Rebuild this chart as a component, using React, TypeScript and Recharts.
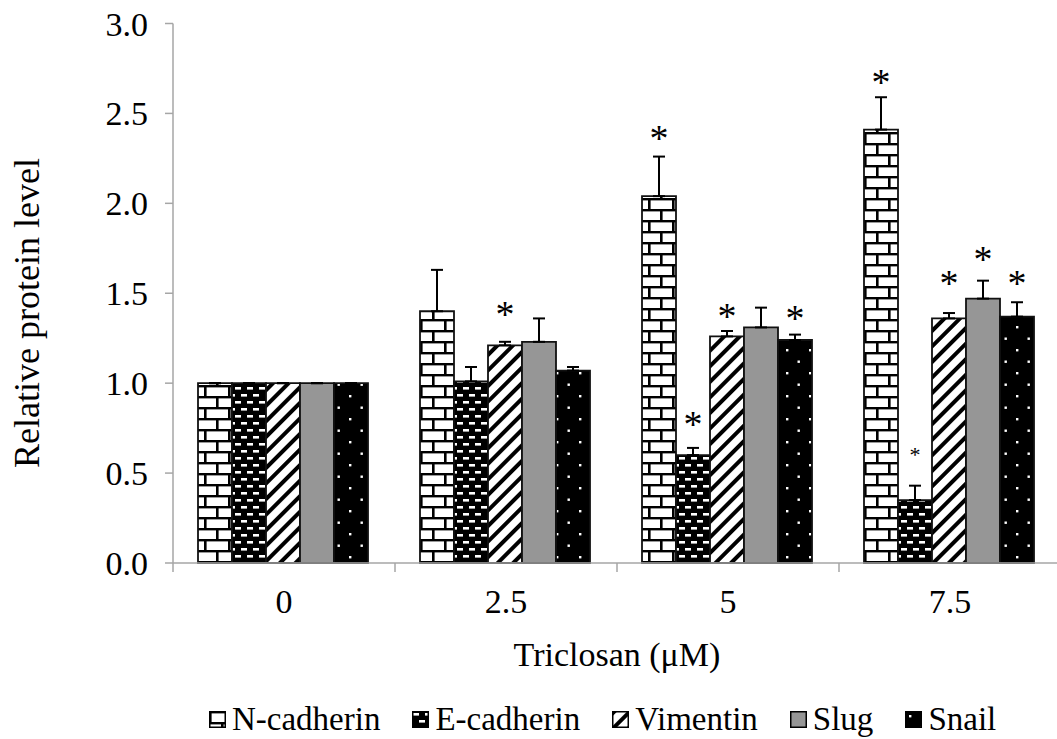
import React from 'react';
import { Bar, BarChart, ErrorBar, LabelList, XAxis, YAxis } from 'recharts';

const doses = ['0', '2.5', '5', '7.5'];

const nCadherin = [1.0, 1.4, 2.04, 2.41];
const nCadherinErr = [0, 0.23, 0.22, 0.18];
const eCadherin = [1.0, 1.01, 0.6, 0.35];
const eCadherinErr = [0, 0.08, 0.04, 0.08];
const vimentin = [1.0, 1.21, 1.26, 1.36];
const vimentinErr = [0, 0.02, 0.03, 0.03];
const slug = [1.0, 1.23, 1.31, 1.47];
const slugErr = [0, 0.13, 0.11, 0.1];
const snail = [1.0, 1.07, 1.24, 1.37];
const snailErr = [0, 0.02, 0.03, 0.08];

// height (in protein-level units) where each significance asterisk sits
const nCadherinStar = [null, null, 2.39, 2.7];
const eCadherinStar = [null, null, 0.8, 0.62];
const vimentinStar = [null, 1.41, 1.4, 1.585];
const slugStar = [null, null, null, 1.72];
const snailStar = [null, null, 1.39, 1.585];

const yTicks = [0, 0.5, 1, 1.5, 2, 2.5, 3];

const FONT = '"Liberation Serif", "Times New Roman", serif';
const AXIS_GRAY = '#a6a6a6';

const series = [
    { key: 'nCad', name: 'N-cadherin', fill: 'url(#brick)', values: nCadherin, err: nCadherinErr, star: nCadherinStar },
    { key: 'eCad', name: 'E-cadherin', fill: 'url(#dash)', values: eCadherin, err: eCadherinErr, star: eCadherinStar },
    { key: 'vim', name: 'Vimentin', fill: 'url(#stripe)', values: vimentin, err: vimentinErr, star: vimentinStar },
    { key: 'slug', name: 'Slug', fill: '#969696', values: slug, err: slugErr, star: slugStar },
    { key: 'snail', name: 'Snail', fill: 'url(#dots)', values: snail, err: snailErr, star: snailStar },
];

const rows = doses.map((dose, i) => {
    const row: Record<string, any> = { dose };
    series.forEach((s) => {
        row[s.key] = s.values[i];
        row[s.key + 'Err'] = [0, s.err[i]];
        row[s.key + 'Star'] = s.star[i];
    });
    return row;
});

function PatternDefs({ prefix = '' }: { prefix?: string }) {
    return (
        <defs>
            <pattern id={prefix + 'brick'} width={24} height={22} patternUnits="userSpaceOnUse">
                <rect width={24} height={22} fill="#fff" />
                <rect x={0} y={0} width={24} height={2.4} fill="#000" />
                <rect x={0} y={11} width={24} height={2.4} fill="#000" />
                <rect x={0} y={0} width={2.6} height={11} fill="#000" />
                <rect x={12} y={11} width={2.6} height={11} fill="#000" />
            </pattern>
            <pattern id={prefix + 'dash'} width={12} height={14} patternUnits="userSpaceOnUse">
                <rect width={12} height={14} fill="#000" />
                <rect x={1} y={2} width={6} height={2.6} fill="#fff" />
                <rect x={7} y={9} width={6} height={2.6} fill="#fff" />
                <rect x={-5} y={9} width={6} height={2.6} fill="#fff" />
            </pattern>
            <pattern id={prefix + 'stripe'} width={11} height={11} patternUnits="userSpaceOnUse" patternTransform="rotate(45)">
                <rect width={11} height={11} fill="#fff" />
                <rect x={0} y={0} width={4} height={11} fill="#000" />
            </pattern>
            <pattern id={prefix + 'dots'} width={23} height={23} patternUnits="userSpaceOnUse">
                <rect width={23} height={23} fill="#000" />
                <rect x={4} y={4} width={2.4} height={2.4} fill="#fff" />
                <rect x={15.5} y={15.5} width={2.4} height={2.4} fill="#fff" />
            </pattern>
        </defs>
    );
}

function DoseTick(props: any) {
    const { x, y, payload } = props;
    const half = payload && payload.offset ? payload.offset : 111;
    return (
        <g>
            <line x1={x - half} x2={x - half} y1={y} y2={y + 9} stroke={AXIS_GRAY} strokeWidth={1.5} />
            <text x={x} y={y + 50} textAnchor="middle" fontFamily={FONT} fontSize={34} fill="#000">
                {payload.value}
            </text>
        </g>
    );
}

function starRenderer(values: number[], small: number[]) {
    return (props: any) => {
        const vb = props.viewBox || props;
        const { index, value } = props;
        if (value === null || value === undefined) return null;
        const h = Number(vb.height);
        const perUnit = h / values[index];
        const cy = Number(vb.y) + h - Number(value) * perUnit;
        const size = small.includes(index) ? 22 : 38;
        return (
            <text x={Number(vb.x) + Number(vb.width) / 2} y={cy + size * 0.47} textAnchor="middle" fontFamily={FONT} fontSize={size} fill="#000">
                *
            </text>
        );
    };
}

function ChartLegend() {
    return (
        <div
            style={{
                position: 'absolute',
                left: 0,
                top: 697,
                width: 1057,
                height: 44,
                display: 'flex',
                alignItems: 'center',
                paddingLeft: 209,
                boxSizing: 'border-box',
                fontFamily: FONT,
                fontSize: 33,
                color: '#000',
                whiteSpace: 'nowrap',
            }}
        >
            {series.map((s) => (
                <div key={s.key} style={{ display: 'flex', alignItems: 'center', marginRight: 32 }}>
                    <svg width={17} height={17} style={{ marginRight: 6 }}>
                        <PatternDefs prefix={'lg-' + s.key + '-'} />
                        <rect
                            x={0.75}
                            y={0.75}
                            width={15.5}
                            height={15.5}
                            fill={s.fill.startsWith('url') ? s.fill.replace('#', '#lg-' + s.key + '-') : s.fill}
                            stroke="#000"
                            strokeWidth={1.5}
                        />
                    </svg>
                    <span>{s.name}</span>
                </div>
            ))}
        </div>
    );
}

export default function App() {
    return (
        <div style={{ position: 'absolute', left: 0, top: 0, width: 1057, height: 739, overflow: 'hidden', background: '#fff' }}>
            <BarChart
                width={1061}
                height={739}
                data={rows}
                margin={{ top: 23.5, right: 0, left: 0, bottom: 44 }}
                barGap={0}
                barCategoryGap={25}
            >
                <PatternDefs />
                <XAxis
                    dataKey="dose"
                    height={132}
                    tickLine={false}
                    tickSize={0}
                    tickMargin={0}
                    axisLine={{ stroke: AXIS_GRAY, strokeWidth: 1.5 }}
                    tick={<DoseTick />}
                    label={{ value: 'Triclosan (μM)', position: 'insideBottom', offset: 29, fontFamily: FONT, fontSize: 34, fill: '#000' }}
                />
                <YAxis
                    width={173}
                    domain={[0, 3]}
                    ticks={yTicks}
                    tickFormatter={(v: number) => v.toFixed(1)}
                    tickSize={8}
                    tickMargin={17}
                    tick={{ fontFamily: FONT, fontSize: 34, fill: '#000' }}
                    tickLine={{ stroke: AXIS_GRAY, strokeWidth: 1.5 }}
                    axisLine={{ stroke: AXIS_GRAY, strokeWidth: 1.5 }}
                    label={() => (
                        <text
                            x={27}
                            y={313}
                            transform="rotate(-90, 27, 313)"
                            textAnchor="middle"
                            dominantBaseline="central"
                            fontFamily={FONT}
                            fontSize={36}
                            fill="#000"
                        >
                            Relative protein level
                        </text>
                    )}
                />
                {series.map((s) => (
                    <Bar key={s.key} dataKey={s.key} name={s.name} fill={s.fill} stroke="#111" strokeWidth={1.8} isAnimationActive={false}>
                        <ErrorBar dataKey={s.key + 'Err'} width={6} stroke="#000" strokeWidth={2} direction="y" />
                        <LabelList dataKey={s.key + 'Star'} content={starRenderer(s.values, s.key === 'eCad' ? [3] : [])} />
                    </Bar>
                ))}
            </BarChart>
            <ChartLegend />
        </div>
    );
}
